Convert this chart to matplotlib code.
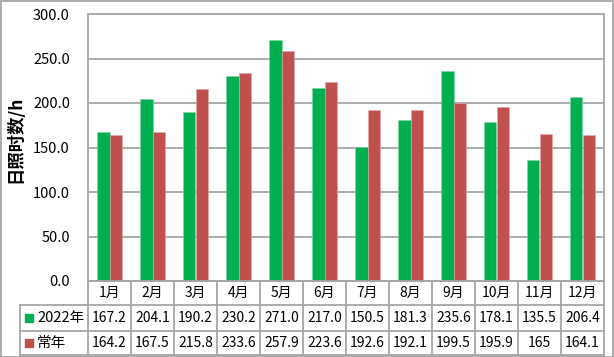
import numpy as np
import matplotlib.pyplot as plt
from matplotlib.patches import Rectangle
from matplotlib.lines import Line2D

plt.rcParams['font.family'] = ['Noto Sans CJK SC', 'DejaVu Sans']

months = ['1月', '2月', '3月', '4月', '5月', '6月', '7月', '8月', '9月', '10月', '11月', '12月']
y2022 = [167.2, 204.1, 190.2, 230.2, 271.0, 217.0, 150.5, 181.3, 235.6, 178.1, 135.5, 206.4]
normal = [164.2, 167.5, 215.8, 233.6, 257.9, 223.6, 192.6, 192.1, 199.5, 195.9, 165, 164.1]
labels_2022 = ['167.2', '204.1', '190.2', '230.2', '271.0', '217.0', '150.5', '181.3', '235.6', '178.1', '135.5', '206.4']
labels_normal = ['164.2', '167.5', '215.8', '233.6', '257.9', '223.6', '192.6', '192.1', '199.5', '195.9', '165', '164.1']
series_names = ['2022年', '常年']
colors = ['#00B050', '#C0504D']

W, H = 614, 357
fig = plt.figure(figsize=(W / 100, H / 100), dpi=100)

def fx(px):
    return px / W

def fy(py):
    return 1 - py / H

grid_c = '#A6A6A6'
left, right, top, bottom = 88, 604, 14, 281
ax = fig.add_axes([fx(left), fy(bottom), fx(right - left), (bottom - top) / H])

x = np.arange(len(months))
bw = 0.28
ax.bar(x - bw / 2, y2022, bw, color=colors[0], edgecolor='#7FD8A8', linewidth=0.4, zorder=3)
ax.bar(x + bw / 2, normal, bw, color=colors[1], edgecolor='#E0A8A6', linewidth=0.4, zorder=3)
ax.set_xlim(-0.5, len(months) - 0.5)
ax.set_ylim(0, 300)
ax.set_yticks(np.arange(0, 301, 50))
ax.set_yticklabels([f'{v:.1f}' for v in np.arange(0, 301, 50)], fontsize=10.5)
ax.set_xticks([])
ax.tick_params(axis='y', length=0, pad=13)
ax.yaxis.grid(True, color=grid_c, linewidth=1.3, zorder=0)
for s in ax.spines.values():
    s.set_color(grid_c)
    s.set_linewidth(1.3)
ax.set_ylabel('日照时数/h', fontsize=12.5, fontweight='bold')
ax.yaxis.set_label_coords((24 - left) / (right - left), 0.53)

# data table
row_y = [281, 305, 331, 355]
col_x = [left + i * (right - left) / 12 for i in range(13)]
lw = 1.3
def hline(x0, x1, yy):
    fig.add_artist(Line2D([fx(x0), fx(x1)], [fy(yy), fy(yy)], color=grid_c, lw=lw))
def vline(xx, y0, y1):
    fig.add_artist(Line2D([fx(xx), fx(xx)], [fy(y0), fy(y1)], color=grid_c, lw=lw))

hline(left, right, row_y[0])
hline(20, right, row_y[1])
hline(20, right, row_y[2])
hline(20, right, row_y[3])
for cx in col_x:
    vline(cx, row_y[0], row_y[3])
vline(20, row_y[1], row_y[3])

for i, m in enumerate(months):
    cx = (col_x[i] + col_x[i + 1]) / 2
    fig.text(fx(cx), fy((row_y[0] + row_y[1]) / 2), m, ha='center', va='center', fontsize=10)
    fig.text(fx(cx), fy((row_y[1] + row_y[2]) / 2), labels_2022[i], ha='center', va='center', fontsize=10)
    fig.text(fx(cx), fy((row_y[2] + row_y[3]) / 2), labels_normal[i], ha='center', va='center', fontsize=10)

for r, (name, c) in enumerate(zip(series_names, colors)):
    yc = (row_y[r + 1] + row_y[r + 2]) / 2
    fig.add_artist(Rectangle((fx(25), fy(yc + 4)), fx(8), 8 / H, color=c))
    fig.text(fx(37), fy(yc), name, ha='left', va='center', fontsize=10.5)

# outer border
fig.add_artist(Rectangle((fx(0.5), fy(356.5)), fx(612), 355.5 / H, fill=False, edgecolor=grid_c, lw=1.3))

fig.savefig('out.png', dpi=100)
